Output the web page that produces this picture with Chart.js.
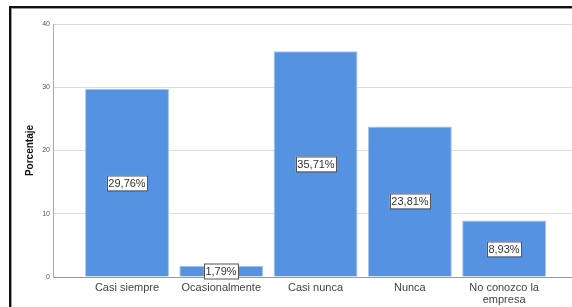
<!DOCTYPE html>
<html>
<head>
<meta charset="utf-8">
<script src="https://cdn.jsdelivr.net/npm/chart.js@4.4.0/dist/chart.umd.min.js"></script>
<style>
  html, body { margin: 0; padding: 0; background: #fff; }
  #wrap { position: relative; width: 572px; height: 307px; overflow: hidden; }
  #frame {
    position: absolute; left: 9px; top: 6px; right: -4px; bottom: -4px;
    border-left: 2px solid #111; border-top: 2px solid #111;
    box-shadow: inset 1px 1px 0 #999;
  }
  #chart { position: absolute; left: 0; top: 0; }
</style>
</head>
<body>
<div id="wrap">
  <div id="frame"></div>
  <canvas id="chart" width="572" height="307"></canvas>
</div>
<script>
// categories and values
const categories = ['Casi siempre', 'Ocasionalmente', 'Casi nunca', 'Nunca', ['No conozco la', 'empresa']];
const percentages = [29.76, 1.79, 35.71, 23.81, 8.93];
const yTicks = [0, 10, 20, 30, 40];

const FONT = "'Liberation Sans', Arial, sans-serif";

// boxed percentage label in the middle of each bar
const boxLabels = {
  id: 'boxLabels',
  afterDatasetsDraw(chart) {
    const ctx = chart.ctx;
    const meta = chart.getDatasetMeta(0);
    ctx.save();
    ctx.font = '11px ' + FONT;
    ctx.textAlign = 'center';
    ctx.textBaseline = 'middle';
    meta.data.forEach((bar, i) => {
      const text = percentages[i].toFixed(2).replace('.', ',') + '%';
      const w = ctx.measureText(text).width + 3;
      const h = 15;
      const cx = Math.round(bar.x);
      const cy = Math.round((bar.y + bar.base) / 2);
      ctx.fillStyle = '#fff';
      ctx.fillRect(cx - w / 2, cy - h / 2, w, h);
      ctx.strokeStyle = '#555';
      ctx.lineWidth = 1;
      ctx.strokeRect(Math.round(cx - w / 2) + 0.5, cy - h / 2 + 0.5, Math.round(w), h);
      ctx.fillStyle = '#333';
      ctx.fillText(text, cx, cy + 1);
    });
    ctx.restore();
  }
};

new Chart(document.getElementById('chart'), {
  type: 'bar',
  data: {
    datasets: [{
      data: percentages.map((v, i) => ({ x: i, y: v })),
      backgroundColor: '#5592e1',
      borderColor: '#a4c4ef',
      borderWidth: 1,
      categoryPercentage: 1,
      barPercentage: 0.89
    }]
  },
  options: {
    responsive: false,
    animation: false,
    layout: { padding: { top: 24, right: 0, bottom: 0, left: 0 } },
    plugins: {
      legend: { display: false },
      tooltip: { enabled: false }
    },
    scales: {
      x: {
        type: 'linear',
        min: -0.785,
        max: 4.72,
        offset: false,
        afterBuildTicks: (scale) => {
          scale.ticks = categories.map((c, i) => ({ value: i }));
        },
        afterFit: (scale) => { scale.height = 30; },
        grid: { display: false, drawTicks: false },
        border: { display: true, color: '#999', width: 1 },
        ticks: {
          padding: 5,
          color: '#444',
          font: { family: FONT, size: 11, lineHeight: 1.1 },
          maxRotation: 0,
          autoSkip: false,
          callback: (v) => categories[v]
        }
      },
      y: {
        min: 0,
        max: 40,
        afterBuildTicks: (scale) => {
          scale.ticks = yTicks.map(v => ({ value: v }));
        },
        afterFit: (scale) => { scale.width = 53; },
        grid: { color: '#dcdcdc', lineWidth: 1, drawTicks: false },
        border: { display: true, color: '#aaa', width: 1 },
        ticks: {
          padding: 3,
          color: '#555',
          font: { family: FONT, size: 7 }
        },
        title: {
          display: true,
          text: 'Porcentaje',
          color: '#111',
          padding: { top: 24 },
          font: { family: FONT, size: 10, weight: 'bold' }
        }
      }
    }
  },
  plugins: [boxLabels]
});
</script>
</body>
</html>
